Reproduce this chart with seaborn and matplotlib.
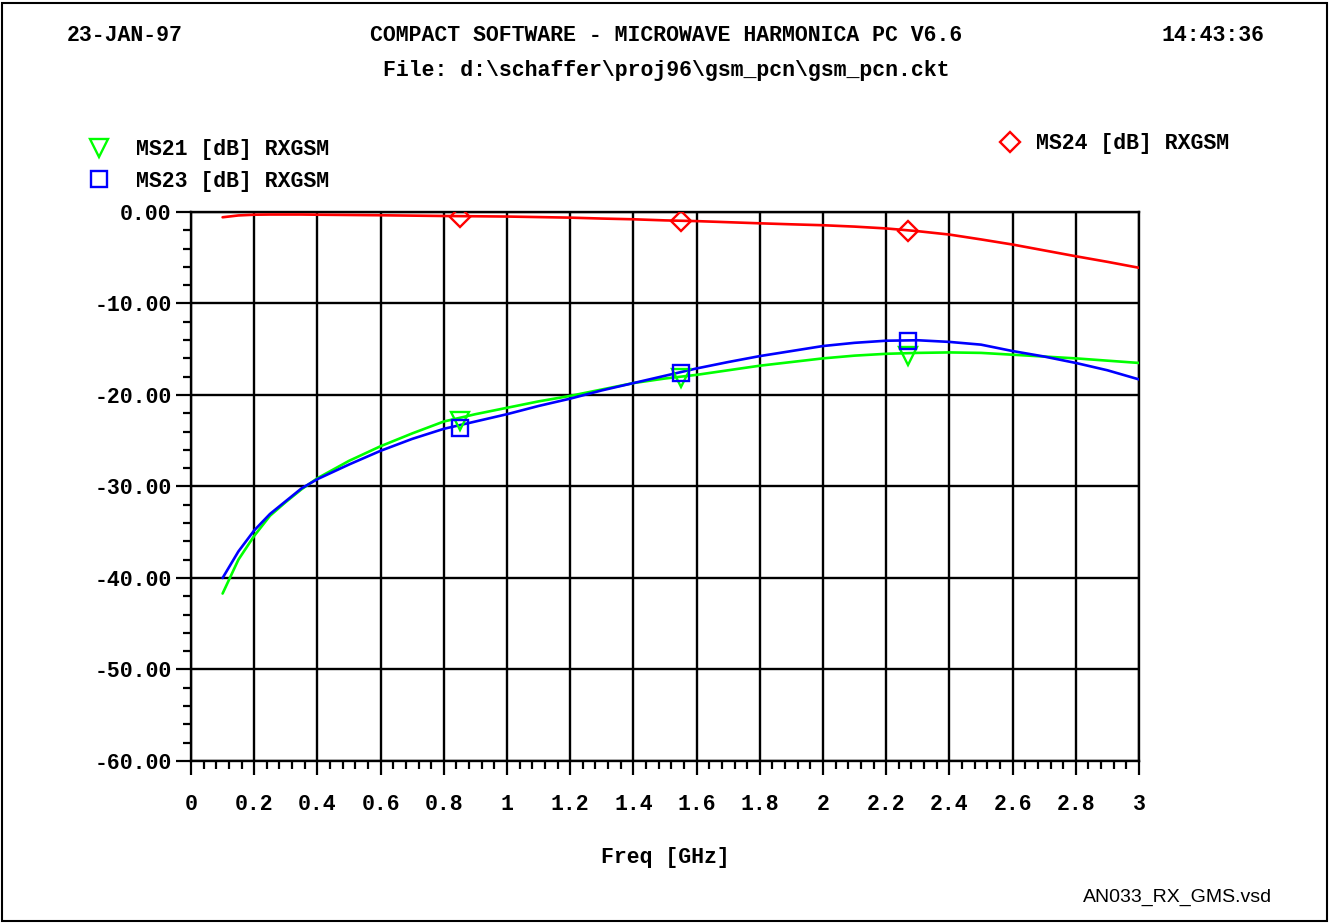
import numpy as np
import pandas as pd
import seaborn as sns
import matplotlib.pyplot as plt
from matplotlib.lines import Line2D
from matplotlib.patches import Rectangle
from matplotlib.ticker import MultipleLocator

# Sweep points (GHz / dB)
freq = [0.1, 0.15, 0.2, 0.25, 0.3, 0.35, 0.4, 0.5, 0.6, 0.7, 0.8, 0.9, 1.0,
        1.1, 1.2, 1.3, 1.4, 1.5, 1.6, 1.7, 1.8, 1.9, 2.0, 2.1, 2.2, 2.3, 2.4,
        2.5, 2.6, 2.7, 2.8, 2.9, 3.0]
ms21 = [-41.7, -38.0, -35.4, -33.2, -31.7, -30.3, -29.1, -27.2, -25.6, -24.2,
        -22.9, -22.1, -21.4, -20.7, -20.1, -19.4, -18.7, -18.2, -17.8, -17.3,
        -16.8, -16.4, -16.0, -15.7, -15.5, -15.4, -15.35, -15.4, -15.6, -15.8,
        -16.0, -16.25, -16.5]
ms23 = [-40.0, -37.1, -34.8, -33.0, -31.6, -30.2, -29.2, -27.6, -26.1, -24.8,
        -23.7, -22.9, -22.1, -21.2, -20.4, -19.5, -18.7, -17.9, -17.1, -16.4,
        -15.75, -15.2, -14.65, -14.3, -14.07, -14.02, -14.2, -14.5, -15.2, -15.8,
        -16.5, -17.3, -18.3]
ms24 = [-0.58, -0.38, -0.3, -0.28, -0.28, -0.28, -0.3, -0.33, -0.36, -0.4,
        -0.44, -0.47, -0.5, -0.56, -0.62, -0.72, -0.8, -0.92, -1.0, -1.12,
        -1.24, -1.35, -1.45, -1.6, -1.8, -2.1, -2.47, -3.0, -3.56, -4.2,
        -4.84, -5.45, -6.1]

# marker symbols drawn on the traces
marker_freq = [0.85, 1.55, 2.27]
ms21_marks = [-22.8, -18.1, -15.75]
ms23_marks = [-23.6, -17.6, -14.05]
ms24_marks = [-0.6, -1.0, -2.05]

traces = ["MS21 [dB] RXGSM", "MS23 [dB] RXGSM", "MS24 [dB] RXGSM"]
colors = {"MS21 [dB] RXGSM": "#00ff00", "MS23 [dB] RXGSM": "#0000ff",
          "MS24 [dB] RXGSM": "#ff0000"}
symbols = {"MS21 [dB] RXGSM": "v", "MS23 [dB] RXGSM": "s", "MS24 [dB] RXGSM": "D"}
msizes = {"MS21 [dB] RXGSM": 13, "MS23 [dB] RXGSM": 11, "MS24 [dB] RXGSM": 10}

x_ticks = [0, 0.2, 0.4, 0.6, 0.8, 1.0, 1.2, 1.4, 1.6, 1.8, 2.0, 2.2, 2.4, 2.6, 2.8, 3.0]
x_tick_labels = ["0", "0.2", "0.4", "0.6", "0.8", "1", "1.2", "1.4", "1.6", "1.8",
                 "2", "2.2", "2.4", "2.6", "2.8", "3"]
y_ticks = [0, -10, -20, -30, -40, -50, -60]
y_tick_labels = ["0.00", "-10.00", "-20.00", "-30.00", "-40.00", "-50.00", "-60.00"]

df = pd.DataFrame({
    "freq": freq * 3,
    "dB": ms21 + ms23 + ms24,
    "trace": [traces[0]] * len(freq) + [traces[1]] * len(freq) + [traces[2]] * len(freq),
})
marks = {traces[0]: ms21_marks, traces[1]: ms23_marks, traces[2]: ms24_marks}

sns.set_style("white")
mono = ["Liberation Mono", "DejaVu Sans Mono"]
plt.rcParams["font.family"] = mono
plt.rcParams["font.weight"] = "bold"
for k in ["text.color", "axes.labelcolor", "xtick.color", "ytick.color"]:
    plt.rcParams[k] = "black"
fs = 15.5

fig = plt.figure(figsize=(13.3, 9.24), dpi=100)
ax = fig.add_axes([0.1436, 0.1764, 0.7128, 0.5942])

sns.lineplot(data=df, x="freq", y="dB", hue="trace", palette=colors,
             linewidth=1.9, legend=False, ax=ax, zorder=3)
for t in traces:
    sns.lineplot(x=marker_freq, y=marks[t], marker=symbols[t], linestyle="",
                 color=colors[t], markersize=msizes[t],
                 markerfacecolor="none", markeredgecolor=colors[t],
                 markeredgewidth=1.7, ax=ax, zorder=4)

ax.set_xlim(0, 3)
ax.set_ylim(-60, 0)
ax.set_xticks(x_ticks, labels=x_tick_labels)
ax.set_yticks(y_ticks, labels=y_tick_labels)
ax.xaxis.set_minor_locator(MultipleLocator(0.04))
ax.yaxis.set_minor_locator(MultipleLocator(2))
ax.grid(True, which="major", color="black", linewidth=1.7)
ax.set_axisbelow(True)
for s in ax.spines.values():
    s.set_visible(True)
    s.set_color("black")
    s.set_linewidth(1.7)

ax.tick_params(axis="x", which="major", bottom=True, direction="out", length=10,
               width=1.6, pad=14, labelsize=fs, colors="black")
ax.tick_params(axis="x", which="minor", bottom=True, direction="out", length=6,
               width=1.6, colors="black")
ax.tick_params(axis="y", which="major", left=True, direction="out", length=11,
               width=1.6, pad=3, labelsize=fs, colors="black")
ax.tick_params(axis="y", which="minor", left=True, direction="out", length=6,
               width=1.6, colors="black")
for lab in ax.get_xticklabels() + ax.get_yticklabels():
    lab.set_fontweight("bold")

ax.set_xlabel("Freq [GHz]", fontsize=fs, fontweight="bold", labelpad=23,
              color="black")
ax.set_ylabel("")

# header
fig.text(0.0504, 0.9621, "23-JAN-97", fontsize=fs, fontweight="bold",
         ha="left", va="center")
fig.text(0.5008, 0.9621, "COMPACT SOFTWARE - MICROWAVE HARMONICA PC V6.6",
         fontsize=fs, fontweight="bold", ha="center", va="center")
fig.text(0.9511, 0.9621, "14:43:36", fontsize=fs, fontweight="bold",
         ha="right", va="center")
fig.text(0.5008, 0.9242, r"File: d:\schaffer\proj96\gsm_pcn\gsm_pcn.ckt",
         fontsize=fs, fontweight="bold", ha="center", va="center")
fig.text(0.9564, 0.0292, "AN033_RX_GMS.vsd", fontsize=14,
         family="Liberation Sans", fontweight="normal", ha="right", va="center")

# legends (marker only keys)
def key(t):
    return Line2D([], [], linestyle="", marker=symbols[t], color=colors[t],
                  markerfacecolor="none", markeredgewidth=1.7,
                  markersize=msizes[t])

prop = {"size": fs, "weight": "bold", "family": mono}
leg1 = fig.legend([key(traces[0]), key(traces[1])], traces[:2], loc="upper left",
                  bbox_to_anchor=(0.0664, 0.8495), frameon=False, borderpad=0,
                  borderaxespad=0, handlelength=1.0, handletextpad=1.22,
                  labelspacing=0.5, prop=prop)
leg2 = fig.legend([key(traces[2])], traces[2:], loc="upper left",
                  bbox_to_anchor=(0.7513, 0.856), frameon=False, borderpad=0,
                  borderaxespad=0, handlelength=1.0, handletextpad=0.71,
                  prop=prop)

fig.add_artist(Rectangle((0.0015, 0.003), 0.996, 0.994, transform=fig.transFigure,
                         fill=False, edgecolor="black", linewidth=1.5))

fig.savefig("out.png", dpi=100)
